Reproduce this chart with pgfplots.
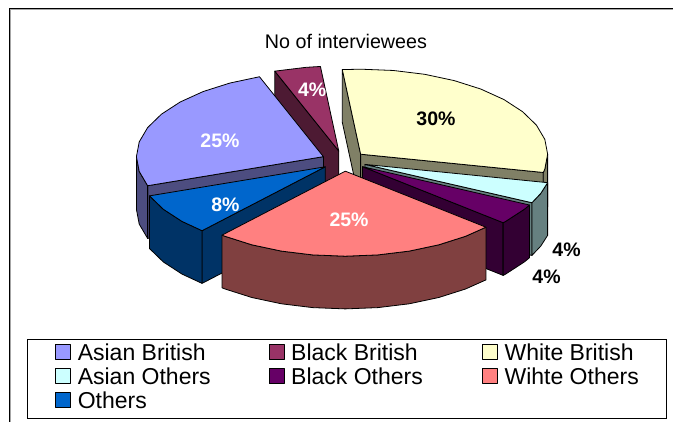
\documentclass[border=0pt]{standalone}
\usepackage{pgfplots}
\pgfplotsset{compat=1.18}
\usepackage{fontspec}
\setmainfont{Liberation Sans}
\definecolor{abtop}{HTML}{9999FF}\definecolor{abside}{HTML}{4D4D80}
\definecolor{bbtop}{HTML}{993366}\definecolor{bbside}{HTML}{4D1A33}
\definecolor{wbtop}{HTML}{FFFFCC}\definecolor{wbside}{HTML}{808066}
\definecolor{aotop}{HTML}{CCFFFF}\definecolor{aoside}{HTML}{668080}
\definecolor{botop}{HTML}{660066}\definecolor{boside}{HTML}{330033}
\definecolor{wotop}{HTML}{FF8080}\definecolor{woside}{HTML}{804040}
\definecolor{ottop}{HTML}{0066CC}\definecolor{otside}{HTML}{003366}
\newcommand{\lbl}{\fontsize{19.5bp}{22bp}\selectfont\bfseries}
\begin{document}
\begin{tikzpicture}
\begin{axis}[
  scale only axis, width=673bp, height=422bp,
  xmin=-1.8385, xmax=1.7604, ymin=-3.0706, ymax=1.894,
  hide axis, clip=false, no markers,
  every axis plot/.append style={draw=black, line width=0.8pt, line join=round, forget plot},
  legend columns=3,
  legend cell align=left,
  legend image code/.code={\path[draw=none, fill=none] (0bp,0bp) rectangle (22bp,0.1bp); \draw[#1, line width=0.8pt] (0bp,-5bp) rectangle (15bp,10bp);},
  legend style={at={(0.0401,0.1967)}, anchor=north west, draw=black, line width=0.8pt,
    font=\fontsize{23bp}{25bp}\selectfont, inner xsep=28bp, inner ysep=3.5bp,
    nodes={inner xsep=0bp, inner ysep=1bp, text height=17bp, text depth=5bp}},
]
\addlegendimage{fill=abtop, draw=black}\addlegendentry{\makebox[191bp][l]{Asian British}}
\addlegendimage{fill=bbtop, draw=black}\addlegendentry{\makebox[191bp][l]{Black British}}
\addlegendimage{fill=wbtop, draw=black}\addlegendentry{White British}
\addlegendimage{fill=aotop, draw=black}\addlegendentry{\makebox[191bp][l]{Asian Others}}
\addlegendimage{fill=botop, draw=black}\addlegendentry{\makebox[191bp][l]{Black Others}}
\addlegendimage{fill=wotop, draw=black}\addlegendentry{Wihte Others}
\addlegendimage{fill=ottop, draw=black}\addlegendentry{\makebox[191bp][l]{Others}}

% Black British (4%)
\addplot[fill=bbside] coordinates {(-0.027,0.117) (-0.369,1.057) (-0.369,0.437) (-0.027,-0.503)} --cycle;
\addplot[fill=bbtop] coordinates {(-0.027,0.117) (-0.125,1.112) (-0.201,1.102) (-0.369,1.057)} --cycle;
% White British (30%)
\addplot[fill=wbside] coordinates {(0.090,0.080) (-0.008,1.075) (-0.008,0.455) (0.090,-0.540)} --cycle;
\addplot[fill=wbside] coordinates {(0.090,0.080) (1.067,-0.135) (1.067,-0.755) (0.090,-0.540)} --cycle;
\addplot[fill=wbside] coordinates {(1.067,-0.135) (1.075,-0.094) (1.090,0.080) (1.090,-0.540) (1.075,-0.714) (1.067,-0.755)} --cycle;
\addplot[fill=wbtop] coordinates {(0.090,0.080) (1.067,-0.135) (1.075,-0.094) (1.090,0.080) (1.075,0.254) (1.030,0.422) (0.956,0.580) (0.856,0.723) (0.733,0.846) (0.590,0.946) (0.432,1.020) (0.264,1.065) (0.090,1.080) (-0.008,1.075)} --cycle;
% Asian British (25%)
\addplot[fill=abside] coordinates {(-0.109,0.051) (-1.049,-0.291) (-1.049,-0.911) (-0.109,-0.569)} --cycle;
\addplot[fill=abside] coordinates {(-1.109,0.051) (-1.094,-0.123) (-1.049,-0.291) (-1.049,-0.911) (-1.094,-0.743) (-1.109,-0.569)} --cycle;
\addplot[fill=abtop] coordinates {(-0.109,0.051) (-0.451,0.991) (-0.609,0.917) (-0.752,0.817) (-0.875,0.694) (-0.975,0.551) (-1.049,0.393) (-1.094,0.225) (-1.109,0.051) (-1.094,-0.123) (-1.049,-0.291)} --cycle;
% Asian Others (4%)
\addplot[fill=aoside] coordinates {(0.113,-0.040) (1.006,-0.491) (1.006,-1.111) (0.113,-0.660)} --cycle;
\addplot[fill=aoside] coordinates {(1.006,-0.491) (1.053,-0.382) (1.090,-0.255) (1.090,-0.875) (1.053,-1.002) (1.006,-1.111)} --cycle;
\addplot[fill=aotop] coordinates {(0.113,-0.040) (1.006,-0.491) (1.053,-0.382) (1.090,-0.255)} --cycle;
% Black Others (4%)
\addplot[fill=boside] coordinates {(0.100,-0.067) (0.852,-0.726) (0.852,-1.346) (0.100,-0.687)} --cycle;
\addplot[fill=boside] coordinates {(0.852,-0.726) (0.866,-0.710) (0.966,-0.567) (0.993,-0.518) (0.993,-1.138) (0.966,-1.187) (0.866,-1.330) (0.852,-1.346)} --cycle;
\addplot[fill=botop] coordinates {(0.100,-0.067) (0.852,-0.726) (0.866,-0.710) (0.966,-0.567) (0.993,-0.518)} --cycle;
% Others (8%)
\addplot[fill=otside] coordinates {(-0.099,-0.068) (-0.758,-0.820) (-0.758,-1.440) (-0.099,-0.688)} --cycle;
\addplot[fill=otside] coordinates {(-1.039,-0.410) (-0.965,-0.568) (-0.865,-0.711) (-0.758,-0.820) (-0.758,-1.440) (-0.865,-1.331) (-0.965,-1.188) (-1.039,-1.030)} --cycle;
\addplot[fill=ottop] coordinates {(-0.099,-0.068) (-1.039,-0.410) (-0.965,-0.568) (-0.865,-0.711) (-0.758,-0.820)} --cycle;
% Wihte Others (25%)
\addplot[fill=woside] coordinates {(-0.651,-0.872) (-0.635,-0.886) (-0.492,-0.986) (-0.334,-1.060) (-0.166,-1.105) (0.008,-1.120) (0.182,-1.105) (0.350,-1.060) (0.508,-0.986) (0.651,-0.886) (0.760,-0.779) (0.760,-1.399) (0.651,-1.506) (0.508,-1.606) (0.350,-1.680) (0.182,-1.725) (0.008,-1.740) (-0.166,-1.725) (-0.334,-1.680) (-0.492,-1.606) (-0.635,-1.506) (-0.651,-1.492)} --cycle;
\addplot[fill=wotop] coordinates {(0.008,-0.120) (-0.651,-0.872) (-0.635,-0.886) (-0.492,-0.986) (-0.334,-1.060) (-0.166,-1.105) (0.008,-1.120) (0.182,-1.105) (0.350,-1.060) (0.508,-0.986) (0.651,-0.886) (0.760,-0.779)} --cycle;

% percentage labels
\node[text=white, font=\lbl] at (axis cs:-0.662,0.235) {25\%};
\node[text=white, font=\lbl] at (axis cs:-0.169,0.841) {4\%};
\node[text=black, font=\lbl] at (axis cs:0.493,0.494) {30\%};
\node[text=white, font=\lbl] at (axis cs:-0.633,-0.518) {8\%};
\node[text=white, font=\lbl] at (axis cs:0.028,-0.688) {25\%};
\node[text=black, font=\lbl] at (axis cs:1.191,-1.041) {4\%};
\node[text=black, font=\lbl] at (axis cs:1.084,-1.365) {4\%};

% title
\node[font=\fontsize{19.7bp}{22bp}\selectfont] at (rel axis cs:0.5141,0.9028) {No of interviewees};

% chart area frame
\draw[black, line width=1bp] (rel axis cs:0.0134,-0.1) |- (rel axis cs:1.1,0.9810);
\draw[gray!70, line width=1bp] (rel axis cs:0.0149,-0.1) |- (rel axis cs:1.1,0.9786);
\end{axis}
\pgfresetboundingbox
\path[use as bounding box] (current axis.south west) rectangle (current axis.north east);
\end{tikzpicture}
\end{document}
